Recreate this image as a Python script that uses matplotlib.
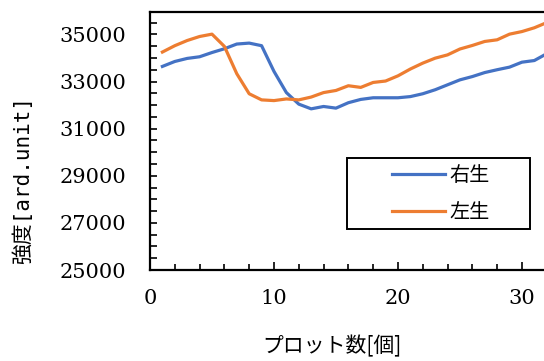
import numpy as np
import matplotlib
matplotlib.use("Agg")
import matplotlib.pyplot as plt
from matplotlib.ticker import MultipleLocator
from matplotlib.patches import Rectangle

# data
plots = list(range(1, 33))
right = [33640, 33850, 33980, 34050, 34230, 34390, 34590, 34630, 34520, 33430,
         32530, 32040, 31840, 31940, 31870, 32100, 32240, 32310, 32310, 32310,
         32360, 32480, 32650, 32860, 33070, 33210, 33380, 33500, 33610, 33820,
         33890, 34180]
left = [34250, 34520, 34740, 34910, 35010, 34490, 33330, 32480, 32220, 32190,
        32260, 32220, 32340, 32530, 32620, 32820, 32750, 32960, 33020, 33240,
        33530, 33780, 33990, 34130, 34380, 34530, 34700, 34770, 35010, 35120,
        35280, 35500]
labels = ["右生", "左生"]

plt.rcParams['font.family'] = ['DejaVu Serif', 'Noto Sans CJK JP']
jp = ['Noto Sans CJK JP', 'DejaVu Sans']
mono_jp = ['DejaVu Sans Mono', 'Noto Sans CJK JP']

fig = plt.figure(figsize=(5.44, 3.61), dpi=100)
ax = fig.add_axes([150/544, 1 - 270/361, 1 - 150/544 + 0.005, 258/361])

ax.plot(plots, right, color="#4472C4", lw=2.3, label=labels[0])
ax.plot(plots, left, color="#ED7D31", lw=2.3, label=labels[1])

ax.set_xlim(0, 32)
ax.set_ylim(25000, 35950)
ax.xaxis.set_major_locator(MultipleLocator(10))
ax.xaxis.set_minor_locator(MultipleLocator(2))
ax.set_yticks(np.arange(25000, 35001, 2000))
ax.yaxis.set_minor_locator(MultipleLocator(500))
ax.tick_params(which='both', direction='in', width=1.2, labelsize=15, color='black')
ax.tick_params(axis='x', which='major', length=6, pad=14)
ax.tick_params(axis='x', which='minor', length=4)
ax.tick_params(axis='y', which='both', length=5, pad=17)
for s in ax.spines.values():
    s.set_linewidth(1.6)
    s.set_color('black')

ax.set_xlabel("プロット数[個]", family=jp, fontsize=15)
ax.xaxis.set_label_coords((331 - 150) / 394, (270 - 335) / 258)
ax.set_ylabel("強度[ard.unit]", family=mono_jp, fontsize=15)
ax.yaxis.set_label_coords((34 - 150) / 394, (270 - 180) / 258)

# legend frame drawn separately (content sits toward the right of the box)
ax.add_patch(Rectangle((0.497, 0.159), 0.462, 0.275, transform=ax.transAxes,
                       fill=True, facecolor='white', edgecolor='black', lw=1.4, zorder=4))
leg = ax.legend(loc='center', bbox_to_anchor=((439 - 150) / 394, (270 - 194) / 258),
                prop={'family': jp, 'size': 14.5}, frameon=False, handlelength=2.6,
                borderpad=0, borderaxespad=0, labelspacing=0.75, handletextpad=0.25)
leg.set_zorder(5)

fig.savefig("out.png", dpi=100)
